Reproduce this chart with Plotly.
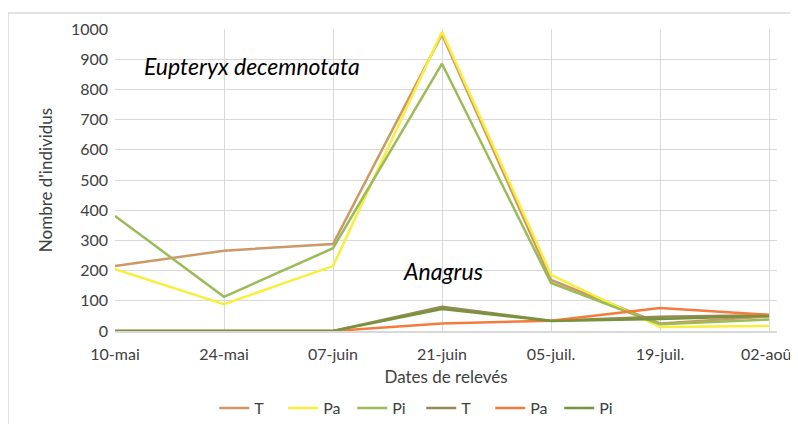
import plotly.graph_objects as go

dates = ["10-mai", "24-mai", "07-juin", "21-juin", "05-juil.", "19-juil.", "02-août"]

eup_T = [215, 266, 288, 982, 169, 25, 48]
eup_Pa = [205, 89, 215, 991, 186, 13, 17]
eup_Pi = [381, 113, 274, 885, 159, 22, 38]
ana_T = [0, 0, 0, 80, 34, 47, 52]
ana_Pa = [0, 0, 0, 25, 34, 76, 54]
ana_Pi = [0, 0, 0, 73, 33, 40, 50]

series = [
    ("T", eup_T, "#CC9966"),
    ("Pa", eup_Pa, "#F8EE3E"),
    ("Pi", eup_Pi, "#9BBB59"),
    ("T", ana_T, "#948A54"),
    ("Pa", ana_Pa, "#F47B3C"),
    ("Pi", ana_Pi, "#77933C"),
]

FONT = "Lato"
fig = go.Figure()
for name, vals, col in series:
    fig.add_trace(go.Scatter(x=list(range(len(dates))), y=vals, name=name, mode="lines",
                             line=dict(color=col, width=2.5)))

fig.update_layout(
    width=790, height=416,
    margin=dict(l=107, r=21, t=21, b=93, autoexpand=False),
    paper_bgcolor="white", plot_bgcolor="white",
    font=dict(family=FONT, size=16, color="#404040"),
    showlegend=True,
    legend=dict(orientation="h", x=0.4626, xanchor="center", y=-0.255, yanchor="middle",
                font=dict(size=16, color="#404040"), tracegroupgap=0,
                entrywidth=24, entrywidthmode="pixels"),
    xaxis=dict(tickmode="array", tickvals=list(range(len(dates))), ticktext=dates,
               range=[0, 6.073], showgrid=True, gridcolor="#D9D9D9", gridwidth=1,
               showline=True, linecolor="#D9D9D9", linewidth=1.5, ticks="", zeroline=False,
               automargin=False, tickfont=dict(size=16), ticklabelstandoff=8,
               title=dict(text="Dates de relevés", font=dict(size=17, color="#404040"), standoff=9)),
    yaxis=dict(range=[0, 1000], dtick=100, showgrid=True, gridcolor="#D9D9D9", gridwidth=1,
               zeroline=False, showline=False, ticks="", ticklabelstandoff=6, automargin=False,
               tickfont=dict(size=16),
               title=dict(text="Nombre d'individus", font=dict(size=17, color="#404040"), standoff=13)),
)

def px(xpix):
    return (xpix - 115) / 662.0

def py(ypix):
    return (331 - ypix) / 302.0

# chart border
fig.add_shape(type="rect", xref="paper", yref="paper", x0=px(8), x1=px(810), y0=py(440), y1=py(13),
              line=dict(color="#D9D9D9", width=1.5), fillcolor="rgba(0,0,0,0)", layer="below")
# text box backgrounds hiding gridlines
fig.add_shape(type="rect", xref="paper", yref="paper", x0=px(123), x1=px(409), y0=py(88), y1=py(39),
              line=dict(width=0), fillcolor="white", layer="between")
fig.add_shape(type="rect", xref="paper", yref="paper", x0=px(383), x1=px(531), y0=py(293), y1=py(247),
              line=dict(width=0), fillcolor="white", layer="between")

fig.add_annotation(xref="paper", yref="paper", x=px(252), y=py(66), text="<i>Eupteryx decemnotata</i>",
                   xanchor="center", yanchor="middle",
                   showarrow=False, font=dict(size=23, color="#000000", family=FONT))
fig.add_annotation(xref="paper", yref="paper", x=px(443), y=py(271), text="<i>Anagrus</i>",
                   xanchor="center", yanchor="middle",
                   showarrow=False, font=dict(size=23, color="#000000", family=FONT))

fig.write_html("out.html")
